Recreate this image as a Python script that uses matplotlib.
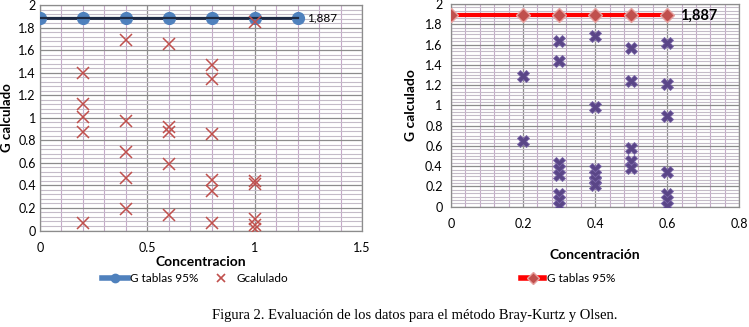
import matplotlib
matplotlib.use("Agg")
import matplotlib.pyplot as plt
from matplotlib.lines import Line2D
import numpy as np

plt.rcParams['font.family'] = ['Lato', 'DejaVu Sans']

# ---- Bray-Kurtz data (left panel) ----
bk_tab_x = [0, 0.2, 0.4, 0.6, 0.8, 1.0, 1.2]
g_tabla = 1.887
bk_calc_x = [0.2, 0.2, 0.2, 0.2, 0.2,
             0.4, 0.4, 0.4, 0.4, 0.4,
             0.6, 0.6, 0.6, 0.6, 0.6,
             0.8, 0.8, 0.8, 0.8, 0.8, 0.8,
             1.0, 1.0, 1.0, 1.0, 1.0, 1.0]
bk_calc_y = [1.40, 1.12, 1.01, 0.87, 0.07,
             1.69, 0.97, 0.70, 0.47, 0.19,
             1.65, 0.92, 0.87, 0.59, 0.14,
             1.47, 1.34, 0.86, 0.45, 0.35, 0.07,
             1.85, 0.44, 0.41, 0.10, 0.05, 0.01]

# ---- Olsen data (right panel) ----
ol_tab_x = [0, 0.2, 0.3, 0.4, 0.5, 0.6]
ol_calc_x = [0.2, 0.2,
             0.3, 0.3, 0.3, 0.3, 0.3, 0.3, 0.3, 0.3,
             0.4, 0.4, 0.4, 0.4, 0.4, 0.4,
             0.5, 0.5, 0.5, 0.5, 0.5,
             0.6, 0.6, 0.6, 0.6, 0.6, 0.6, 0.6]
ol_calc_y = [1.29, 0.65,
             1.63, 1.44, 0.43, 0.37, 0.31, 0.13, 0.07, 0.01,
             1.68, 0.98, 0.37, 0.31, 0.26, 0.21,
             1.57, 1.24, 0.58, 0.45, 0.38,
             1.62, 1.21, 0.89, 0.34, 0.13, 0.07, 0.01]

tick_font = 9
minor_v_col = '#c6a9c9'
minor_h_col = '#c4bcc8'
major_col = '#8c8c8c'

fig = plt.figure(figsize=(7.49, 3.27), dpi=100)


def style_axes(ax, xmax, xmaj, xmin_step, ymin_step, ypad):
    ax.set_xlim(0, xmax)
    ax.set_ylim(0, 2)
    ax.set_xticks(np.round(np.arange(0, xmax + 1e-9, xmaj), 3))
    ax.set_xticks(np.round(np.arange(0, xmax + 1e-9, xmin_step), 4), minor=True)
    ax.set_yticks(np.round(np.arange(0, 2.0001, 0.2), 2))
    ax.set_yticks(np.round(np.arange(0, 2.0001, ymin_step), 4), minor=True)
    ax.xaxis.grid(True, which='minor', color=minor_v_col, linewidth=0.8)
    ax.yaxis.grid(True, which='minor', color=minor_h_col, linewidth=0.8)
    ax.grid(which='major', color=major_col, linewidth=0.9)
    ax.set_axisbelow(True)
    ax.tick_params(which='both', length=0, labelsize=tick_font, colors='black')
    ax.tick_params(axis='x', pad=8)
    ax.tick_params(axis='y', pad=ypad)
    for s in ax.spines.values():
        s.set_color(major_col)
        s.set_linewidth(0.9)
    ax.yaxis.set_major_formatter(plt.FuncFormatter(lambda v, p: f"{v:g}"))
    ax.xaxis.set_major_formatter(plt.FuncFormatter(lambda v, p: f"{v:g}"))


# Left panel: Bray-Kurtz
ax1 = fig.add_axes([40 / 749, 1 - 230.5 / 327, 322 / 749, 225.5 / 327])
style_axes(ax1, 1.5, 0.5, 0.1, 0.04, 3)
ax1.plot(bk_tab_x, [g_tabla] * len(bk_tab_x), color='#1e2a44', lw=2.0,
         marker='o', ms=8.5, mfc='#4f81bd', mec='#4f81bd', zorder=3)
ax1.plot(bk_tab_x, [g_tabla] * len(bk_tab_x), color='#1e2a44', lw=1.6, zorder=4)
ax1.plot(bk_calc_x, bk_calc_y, ls='none', marker='x', ms=9, mew=1.1,
         color='#c0504d', zorder=5)
ax1.text(1.245, g_tabla, "1,887", fontsize=8.5, va='center',
         ha='left', color='black')
ax1.set_ylabel("G calculado", fontsize=9.5, fontweight='bold')
ax1.yaxis.set_label_coords(-0.084, 0.5)
ax1.set_xlabel("Concentracion", fontsize=10, fontweight='bold', labelpad=2)

# Right panel: Olsen
ax2 = fig.add_axes([451 / 749, 1 - 206.7 / 327, 288.3 / 749, 202.7 / 327])
style_axes(ax2, 0.8, 0.2, 0.04, 0.2 / 6, 6)
ax2.plot(ol_tab_x, [g_tabla] * len(ol_tab_x), color='#ff0000', lw=3.0,
         marker='D', ms=7, mfc='#c0504d', mec='#e6a09e', mew=1.0, zorder=3)
ax2.plot(ol_calc_x, ol_calc_y, ls='none', marker='X', ms=8, mew=0.6,
         mfc='#5a4687', mec='#7a66a8', zorder=5)
ax2.text(0.635, g_tabla, "1,887", fontsize=10.5, fontweight='bold', va='center',
         ha='left', color='black')
ax2.set_ylabel("G calculado", fontsize=10, fontweight='bold')
ax2.yaxis.set_label_coords(-0.118, 0.5)
ax2.set_xlabel("Concentración", fontsize=10, fontweight='bold', labelpad=14)

# Legends
h1 = Line2D([], [], color='#4f81bd', lw=4, marker='o', ms=6, mfc='#4f81bd')
h2 = Line2D([], [], ls='none', marker='x', ms=6, mew=1.2, color='#c0504d')
fig.legend([h1, h2], ["G tablas 95%", "Gcalulado"], loc='center',
           bbox_to_anchor=(195 / 749, 1 - 279 / 327), ncol=2, frameon=False,
           fontsize=8.5, handlelength=2.2, handletextpad=0.2, columnspacing=0.8)

h3 = Line2D([], [], color='#ff0000', lw=4, marker='D', ms=6, mfc='#c0504d',
            mec='#e6a09e')
fig.legend([h3], ["G tablas 95%"], loc='center',
           bbox_to_anchor=(568 / 749, 1 - 279 / 327), frameon=False,
           fontsize=8.5, handlelength=2.0, handletextpad=0.2)

# Caption
fig.text(415 / 749, 1 - 316 / 327,
         "Figura 2. Evaluación de los datos para el método Bray-Kurtz y Olsen.",
         ha='center', va='center', fontsize=10.5, family='Liberation Serif')

fig.savefig("out.png", dpi=100)
